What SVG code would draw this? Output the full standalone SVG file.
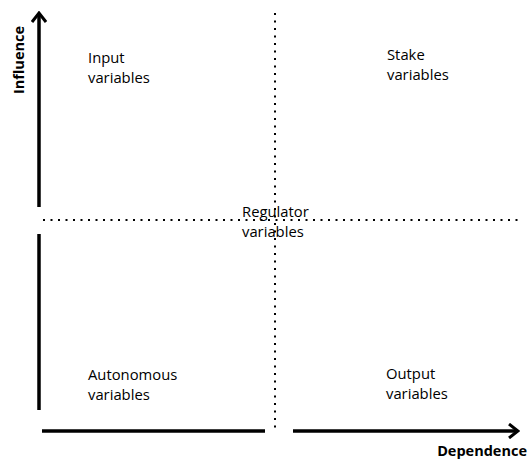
<svg xmlns="http://www.w3.org/2000/svg" width="530" height="460" viewBox="0 0 530 460">
<style>
.axis{stroke:#000;stroke-width:3.5;fill:none}
.dot{stroke:#000;stroke-width:2;stroke-dasharray:2 5.5;fill:none}
.lbl{font-family:"Open Sans","Liberation Sans",sans-serif;font-size:14.8px;fill:#000}
.ax{font-family:"Open Sans","Liberation Sans",sans-serif;font-size:14.5px;font-weight:bold;fill:#000}
</style>
<defs>
<marker id="arr" viewBox="0 0 16 16" refX="14" refY="8" markerWidth="16" markerHeight="16" markerUnits="userSpaceOnUse" orient="auto">
<path d="M5,1 L14,8 L5,15" fill="none" stroke="#000" stroke-width="3"/>
</marker>
</defs>
<rect width="530" height="460" fill="#fff"/>
<g id="connectors">
<line class="axis" x1="39" y1="410" x2="39" y2="234"/>
<line class="axis" x1="39" y1="207" x2="39" y2="13" marker-end="url(#arr)"/>
<line class="axis" x1="42" y1="431" x2="265" y2="431"/>
<line class="axis" x1="293" y1="431" x2="518" y2="431" marker-end="url(#arr)"/>
<line class="dot" x1="275" y1="13" x2="275" y2="430"/>
<line class="dot" x1="43" y1="220" x2="522" y2="220"/>
</g>
<g id="influence"><text class="ax" transform="translate(24,60) rotate(-90)" text-anchor="middle">Influence</text></g>
<g id="dependence"><text class="ax" x="527" y="456" text-anchor="end">Dependence</text></g>
<g id="input"><text class="lbl" x="88" y="63">Input</text><text class="lbl" x="88" y="83">variables</text></g>
<g id="stake"><text class="lbl" x="387" y="60">Stake</text><text class="lbl" x="387" y="80">variables</text></g>
<g id="regulator"><text class="lbl" x="242" y="217">Regulator</text><text class="lbl" x="242" y="237">variables</text></g>
<g id="autonomous"><text class="lbl" x="88" y="380">Autonomous</text><text class="lbl" x="88" y="400">variables</text></g>
<g id="output"><text class="lbl" x="386" y="379">Output</text><text class="lbl" x="386" y="399">variables</text></g>
</svg>
